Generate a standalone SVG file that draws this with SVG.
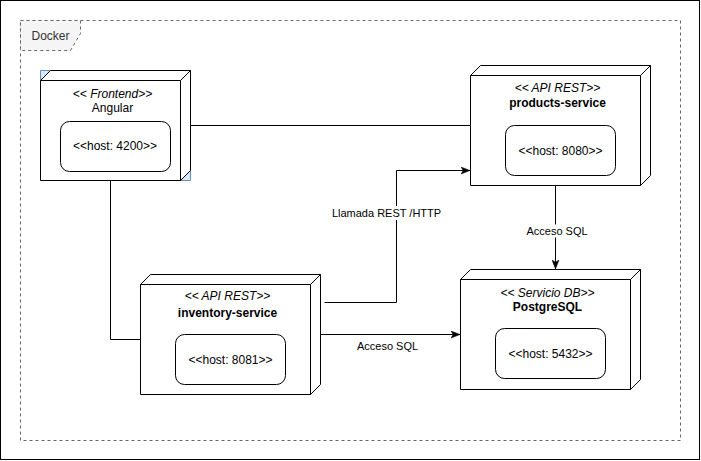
<svg xmlns="http://www.w3.org/2000/svg" width="701" height="461" viewBox="0 0 701 461">
<style>
text{font-family:"Liberation Sans",Arial,Helvetica,sans-serif;font-size:12px;fill:#000}
.t{text-anchor:middle}
.it{font-style:italic}
.b{font-weight:bold}
.lbl{font-size:11px;text-anchor:middle}
.box{fill:#fff;stroke:#000;stroke-width:1}
.host{fill:#fff;stroke:#000;stroke-width:1}
.edge{fill:none;stroke:#000;stroke-width:1}
.corner{fill:#dae8fc;stroke:#6c8ebf;stroke-width:1}
</style>
<defs>
<marker id="arr" markerUnits="userSpaceOnUse" viewBox="0 0 9 8" refX="9" refY="4" markerWidth="9" markerHeight="8" orient="auto">
<path d="M0,0.5 L9,4 L0,7.5 L2.2,4 Z" fill="#000" stroke="#000" stroke-width="0.5"/>
</marker>
</defs>
<rect x="0.5" y="0.5" width="699" height="459" fill="#fff" stroke="#000"/>
<g id="docker">
<rect x="20.5" y="20.5" width="660" height="420" fill="none" stroke="#666" stroke-dasharray="3 3"/>
<path d="M20.5,20.5 L80.5,20.5 L80.5,33.5 L70.5,50.5 L20.5,50.5 Z" fill="#f5f5f5" stroke="#666" stroke-dasharray="3 3"/>
<text x="50.5" y="39.5" class="t" style="fill:#333">Docker</text>
</g>
<g id="connectors">
<path class="edge" d="M190.5,125.5 L470.5,125.5"/>
<path class="edge" d="M110.5,180.5 L110.5,339.5 L140.5,339.5"/>
<path class="edge" d="M324.5,302.5 L396.5,302.5 L396.5,170.5 L470,170.5" marker-end="url(#arr)"/>
<path class="edge" d="M555.5,185.5 L555.5,269" marker-end="url(#arr)"/>
<path class="edge" d="M320.5,334.5 L460,334.5" marker-end="url(#arr)"/>
<rect x="331" y="206" width="111" height="14" fill="#fff"/>
<text x="386.5" y="217" class="lbl">Llamada REST /HTTP</text>
<rect x="527" y="224.5" width="61" height="13" fill="#fff"/>
<text x="557" y="235" class="lbl">Acceso SQL</text>
<text x="387.5" y="350" class="lbl">Acceso SQL</text>
</g>
<g id="angular">
<polygon class="corner" points="40.5,70.5 50.5,70.5 40.5,80.5"/>
<polygon class="corner" points="190.5,170.5 190.5,180.5 180.5,180.5"/>
<path class="box" d="M40.5,80.5 L50.5,70.5 L190.5,70.5 L190.5,170.5 L180.5,180.5 L40.5,180.5 Z"/>
<path class="edge" d="M40.5,80.5 L180.5,80.5 L190.5,70.5 M180.5,80.5 L180.5,180.5"/>
<text x="112.5" y="97.5" class="t it">&lt;&lt; Frontend&gt;&gt;</text>
<text x="112.5" y="111.5" class="t">Angular</text>
<rect class="host" x="60.5" y="121.5" width="110" height="50" rx="9" ry="9"/>
<text x="115" y="150" class="t">&lt;&lt;host: 4200&gt;&gt;</text>
</g>
<g id="products-service">
<path class="box" d="M470.5,75.5 L480.5,65.5 L650.5,65.5 L650.5,175.5 L640.5,185.5 L470.5,185.5 Z"/>
<path class="edge" d="M470.5,75.5 L640.5,75.5 L650.5,65.5 M640.5,75.5 L640.5,185.5"/>
<text x="557.5" y="91.5" class="t it">&lt;&lt; API REST&gt;&gt;</text>
<text x="557.5" y="107" class="t b">products-service</text>
<rect class="host" x="505.5" y="125.5" width="110" height="50" rx="9" ry="9"/>
<text x="560.5" y="154.5" class="t">&lt;&lt;host: 8080&gt;&gt;</text>
</g>
<g id="inventory-service">
<path class="box" d="M140.5,284.5 L150.5,274.5 L320.5,274.5 L320.5,384.5 L310.5,394.5 L140.5,394.5 Z"/>
<path class="edge" d="M140.5,284.5 L310.5,284.5 L320.5,274.5 M310.5,284.5 L310.5,394.5"/>
<text x="227.5" y="299.5" class="t it">&lt;&lt; API REST&gt;&gt;</text>
<text x="227.5" y="316.5" class="t b">inventory-service</text>
<rect class="host" x="175.5" y="334.5" width="110" height="50" rx="9" ry="9"/>
<text x="230.5" y="363.5" class="t">&lt;&lt;host: 8081&gt;&gt;</text>
</g>
<g id="postgresql">
<path class="box" d="M460.5,279.5 L470.5,269.5 L640.5,269.5 L640.5,379.5 L630.5,389.5 L460.5,389.5 Z"/>
<path class="edge" d="M460.5,279.5 L630.5,279.5 L640.5,269.5 M630.5,279.5 L630.5,389.5"/>
<text x="547.5" y="297" class="t it">&lt;&lt; Servicio DB&gt;&gt;</text>
<text x="547.5" y="311" class="t b">PostgreSQL</text>
<rect class="host" x="495.5" y="328.5" width="110" height="50" rx="9" ry="9"/>
<text x="550.5" y="357.5" class="t">&lt;&lt;host: 5432&gt;&gt;</text>
</g>
</svg>
